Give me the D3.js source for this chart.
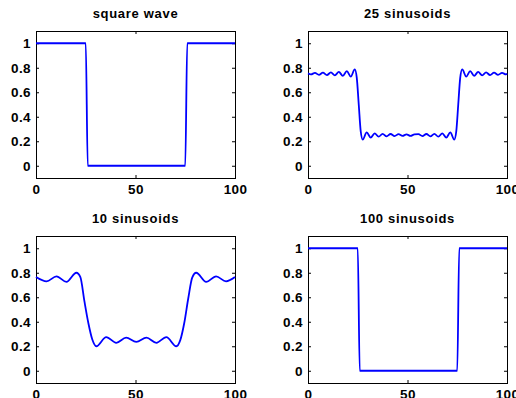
<!DOCTYPE html>
<html>
<head>
<meta charset="utf-8">
<script src="https://cdn.jsdelivr.net/npm/d3@7"></script>
<style>
    body { margin: 0; background: #fff; }
    svg { display: block; }
    .tick text, .title { font-family: "Liberation Sans", Arial, sans-serif; font-weight: bold; fill: #000; }
    .tick text { font-size: 13.5px; letter-spacing: 0.4px; }
    .title { font-size: 13px; letter-spacing: 0.7px; }
    .tick line { stroke: #000; }
</style>
</head>
<body>
<svg id="chart" width="516" height="398"></svg>
<script>
// ticks
const xTicks = [0, 50, 100];
const yTicks = [0, 0.2, 0.4, 0.6, 0.8, 1];

// square wave (corner points)
const squareX = [0, 25, 26, 75, 76, 100];
const squareY = [1, 1, 0, 0, 1, 1];

// 25 sinusoids: peaks, troughs and edge points
const sin25X = [0, 1.5, 3.5, 5.5, 7.5, 9.5, 11.5, 13.5, 15.5, 17.5, 19.5, 21.5, 23.5, 24.5, 25.5, 26.5,
    27.5, 29.5, 31.5, 33.5, 35.5, 37.5, 39.5, 41.5, 43.5, 45.5, 47.5, 49.5, 51.5, 53.5, 55.5, 57.5,
    59.5, 61.5, 63.5, 65.5, 67.5, 69.5, 71.5, 73.5, 74.5, 75.5, 76.5, 77.5, 79.5, 81.5, 83.5, 85.5,
    87.5, 89.5, 91.5, 93.5, 95.5, 97.5, 99.5, 100];
const sin25Y = [0.754, 0.746, 0.758, 0.742, 0.760, 0.740, 0.762, 0.738, 0.766, 0.734, 0.772, 0.728, 0.787, 0.720, 0.500, 0.280,
    0.213, 0.272, 0.230, 0.265, 0.237, 0.261, 0.240, 0.259, 0.242, 0.258, 0.244, 0.256, 0.244, 0.256, 0.258, 0.242,
    0.259, 0.240, 0.261, 0.237, 0.265, 0.230, 0.272, 0.213, 0.280, 0.500, 0.720, 0.787, 0.728, 0.772, 0.734, 0.766,
    0.738, 0.762, 0.740, 0.760, 0.742, 0.758, 0.746, 0.754];

// 10 sinusoids: peaks, troughs and edge points
const sin10X = [0, 5.3, 10.3, 15.3, 20.3, 22.3, 24.3, 26.3, 28.3, 30.3, 35.3, 40.3, 45.3, 50.4,
    55.5, 60.5, 65.5, 70.5, 72.5, 74.5, 76.5, 78.5, 80.5, 85.5, 90.5, 95.5, 100];
const sin10Y = [0.765, 0.730, 0.770, 0.725, 0.800, 0.765, 0.570, 0.390, 0.255, 0.200, 0.275, 0.228, 0.270, 0.235,
    0.270, 0.228, 0.275, 0.200, 0.250, 0.390, 0.590, 0.760, 0.800, 0.725, 0.770, 0.730, 0.765];

// 100 sinusoids
const sin100X = [0, 25, 26, 75, 76, 100];
const sin100Y = [1, 1, 0, 0, 1, 1];

const svg = d3.select('#chart');

function panel(box, xs, ys, title) {
    const x = d3.scaleLinear().domain([0, 100]).range([box.x0, box.x1]);
    const y = d3.scaleLinear().domain([-0.1, 1.1]).range([box.y1, box.y0]);
    const g = svg.append('g');

    g.append('g').attr('transform', 'translate(0,' + box.y1 + ')')
        .call(d3.axisBottom(x).tickValues(xTicks).tickSizeInner(-3).tickSizeOuter(0).tickPadding(6))
        .call(a => a.select('.domain').remove());
    g.append('g').attr('transform', 'translate(0,' + box.y0 + ')')
        .call(d3.axisTop(x).tickValues(xTicks).tickSizeInner(-3).tickSizeOuter(0).tickFormat(''))
        .call(a => a.select('.domain').remove());
    g.append('g').attr('transform', 'translate(' + box.x0 + ',0)')
        .call(d3.axisLeft(y).tickValues(yTicks).tickSizeInner(-3).tickSizeOuter(0).tickPadding(5).tickFormat(d3.format('')))
        .call(a => a.select('.domain').remove());
    g.append('g').attr('transform', 'translate(' + box.x1 + ',0)')
        .call(d3.axisRight(y).tickValues(yTicks).tickSizeInner(-3).tickSizeOuter(0).tickFormat(''))
        .call(a => a.select('.domain').remove());
    g.selectAll('.tick text').attr('font-size', null).attr('font-family', null);

    g.append('rect')
        .attr('x', box.x0 + 0.5).attr('y', box.y0 + 0.5)
        .attr('width', box.x1 - box.x0).attr('height', box.y1 - box.y0)
        .attr('fill', 'none').attr('stroke', '#000').attr('stroke-width', 1);

    const line = d3.line().x(i => x(xs[i])).y(i => y(ys[i])).curve(d3.curveMonotoneX);
    g.append('path')
        .attr('d', line(d3.range(xs.length)))
        .attr('fill', 'none').attr('stroke', '#0000ff').attr('stroke-width', 1.8);

    g.append('text').attr('class', 'title')
        .attr('x', (box.x0 + box.x1) / 2).attr('y', box.y0 - 13)
        .attr('text-anchor', 'middle').text(title);
}

panel({ x0: 36, x1: 235, y0: 31, y1: 178 }, squareX, squareY, 'square wave');
panel({ x0: 308, x1: 507, y0: 31, y1: 178 }, sin25X, sin25Y, '25 sinusoids');
panel({ x0: 36, x1: 235, y0: 236, y1: 383 }, sin10X, sin10Y, '10 sinusoids');
panel({ x0: 308, x1: 507, y0: 236, y1: 383 }, sin100X, sin100Y, '100 sinusoids');
</script>
</body>
</html>
